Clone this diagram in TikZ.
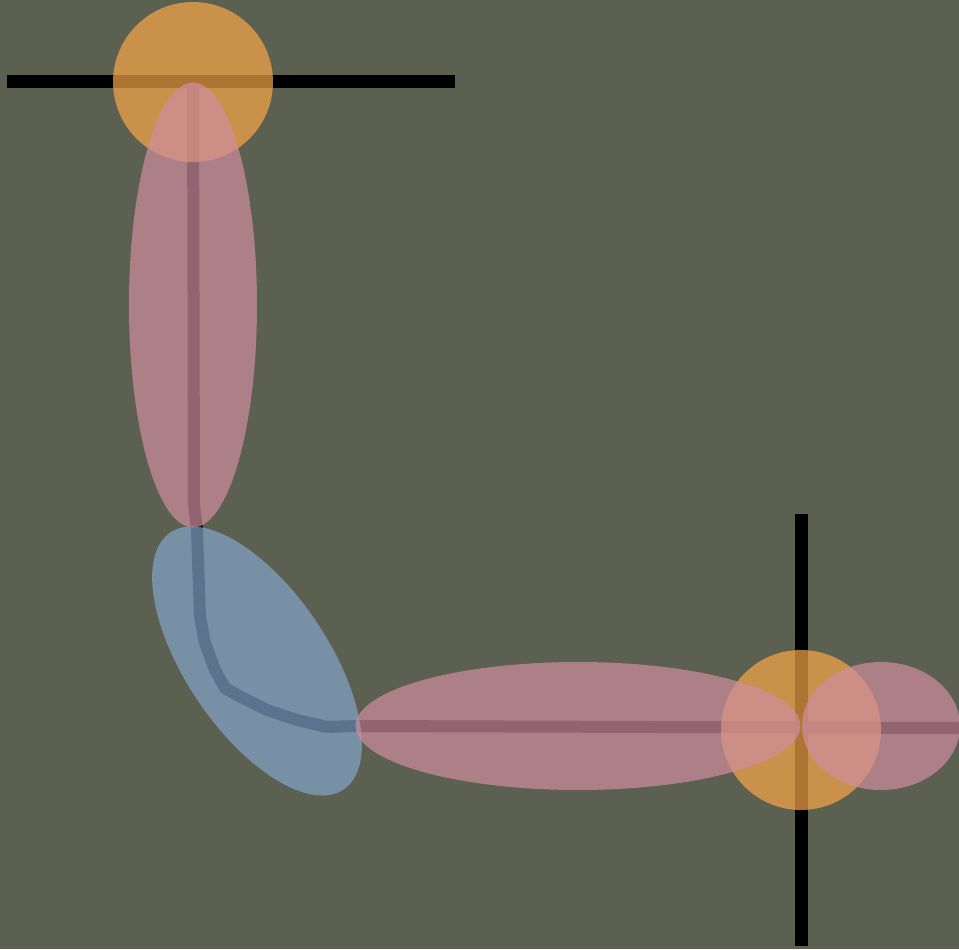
\documentclass[tikz,border=0pt]{standalone}
\usetikzlibrary{shapes.geometric}
\pgfdeclarelayer{back}
\pgfsetlayers{back,main}
\definecolor{bgolive}{RGB}{92,96,80}
\definecolor{jointorange}{RGB}{248,167,72}
\definecolor{bonepink}{RGB}{208,142,160}
\definecolor{boneblue}{RGB}{132,165,203}
\tikzset{
joint/.style={circle,fill=jointorange,fill opacity=.7,minimum size=3.2cm,inner sep=0pt},
bone/.style={ellipse,fill=bonepink,fill opacity=.7,inner sep=0pt},
softbone/.style={bone,fill=boneblue},
axisline/.style={line width=.26cm},
spine/.style={line width=.24cm,line join=round}
}
\begin{document}
\begin{tikzpicture}[x=.02cm,y=-.02cm]
\useasboundingbox(0,0)rectangle(959,949);
\node[joint](topjoint)at(193,82){};
\node[joint](lowjoint)at(801,730){};
\node[bone,minimum width=2.56cm,minimum height=8.9cm](upperbone)at(193,305){};
\node[softbone,minimum width=6.2cm,minimum height=2.85cm,rotate=-56](midbone)at(257,661){};
\node[bone,minimum width=8.9cm,minimum height=2.56cm](lowerbone)at(578,726){};
\node[bone,minimum width=3.16cm,minimum height=2.56cm](tipbone)at(881,726){};
\coordinate(hleft)at(7,82);\coordinate(hright)at(455,82);
\coordinate(vtop)at(801,514);\coordinate(vbot)at(801,946);
\coordinate(spineend)at(959,728);
\begin{pgfonlayer}{back}
\fill[bgolive](0,0)rectangle(959,949);
\draw[axisline](hleft)--(hright);\draw[axisline](vtop)--(vbot);
\draw[spine](upperbone.north)--(194,505)--(197,530)--(200,617)--(205,643)--(215,670)--(225,688)--(237,695)--(267,710)--(297,720)--(327,727)--(lowerbone.west)--(spineend);
\end{pgfonlayer}
\end{tikzpicture}
\end{document}
